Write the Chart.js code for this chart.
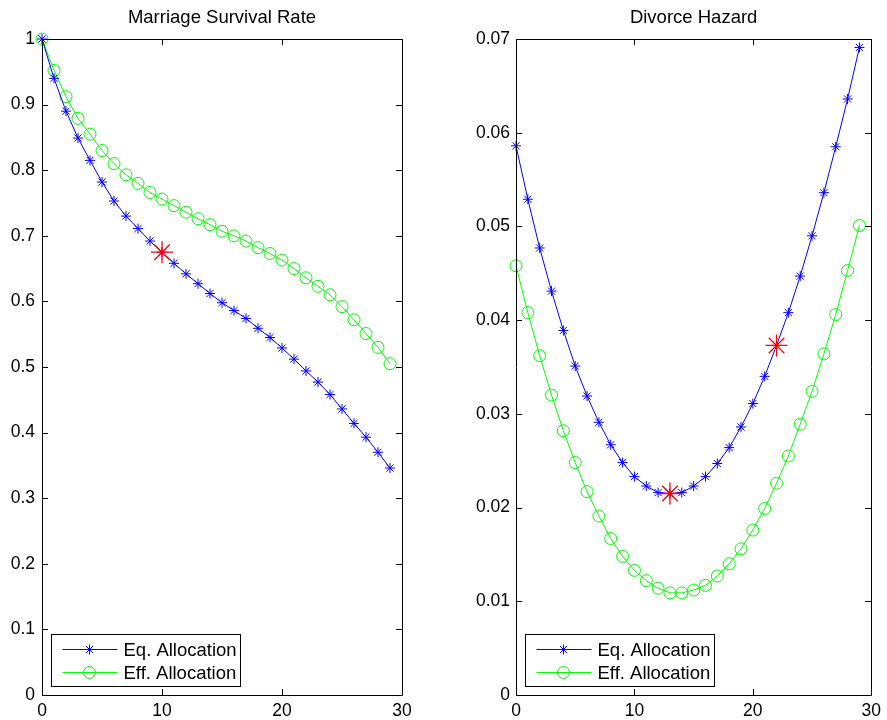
<!DOCTYPE html>
<html>
<head>
<meta charset="utf-8">
<title>Marriage Survival Rate / Divorce Hazard</title>
<script src="https://cdn.jsdelivr.net/npm/chart.js@4/dist/chart.umd.min.js"></script>
<style>
  html, body { margin: 0; padding: 0; background: #fff; }
  #wrap { position: relative; width: 887px; height: 720px; }
  canvas { position: absolute; top: 0; }
  #survivalChart { left: 0; }
  #hazardChart { left: 443px; }
</style>
</head>
<body>
<div id="wrap">
  <canvas id="survivalChart" width="443" height="720"></canvas>
  <canvas id="hazardChart" width="444" height="720"></canvas>
</div>
<script>
// Periods on the x axis
const periods = [0, 1, 2, 3, 4, 5, 6, 7, 8, 9, 10, 11, 12, 13, 14, 15, 16, 17, 18, 19, 20, 21, 22, 23, 24, 25, 26, 27, 28, 29];

// Marriage survival rate
const survivalEq = [1.0, 0.940, 0.890, 0.849, 0.815, 0.782, 0.753, 0.730, 0.711, 0.692, 0.675, 0.658, 0.642, 0.627, 0.612, 0.598, 0.586, 0.574, 0.559, 0.545, 0.529, 0.512, 0.494, 0.477, 0.458, 0.436, 0.414, 0.393, 0.370, 0.346];
const survivalEff = [1.0, 0.952, 0.912, 0.879, 0.855, 0.830, 0.810, 0.793, 0.780, 0.766, 0.756, 0.746, 0.736, 0.726, 0.717, 0.707, 0.700, 0.692, 0.682, 0.673, 0.663, 0.650, 0.636, 0.623, 0.610, 0.592, 0.572, 0.551, 0.530, 0.505];

// Divorce hazard
const hazardEq = [0.0586, 0.0529, 0.0477, 0.0431, 0.0389, 0.0351, 0.0319, 0.0291, 0.0267, 0.0248, 0.0233, 0.0223, 0.0216, 0.0215, 0.0216, 0.0223, 0.0233, 0.0247, 0.0264, 0.0286, 0.0311, 0.0340, 0.0373, 0.0408, 0.0447, 0.0490, 0.0536, 0.0585, 0.0636, 0.0691];
const hazardEff = [0.0458, 0.0408, 0.0362, 0.0320, 0.0282, 0.0248, 0.0217, 0.0191, 0.0167, 0.0148, 0.0133, 0.0122, 0.0114, 0.0109, 0.0109, 0.0112, 0.0117, 0.0127, 0.0140, 0.0156, 0.0176, 0.0199, 0.0226, 0.0255, 0.0289, 0.0324, 0.0364, 0.0406, 0.0453, 0.0501];

// Highlighted periods (red stars on the Eq. Allocation curve)
const survivalMarked = [10];
const hazardMarked = [13, 22];

// Axis ticks
const xTicks = [0, 10, 20, 30];
const survivalTicks = [0, 0.1, 0.2, 0.3, 0.4, 0.5, 0.6, 0.7, 0.8, 0.9, 1];
const hazardTicks = [0, 0.01, 0.02, 0.03, 0.04, 0.05, 0.06, 0.07];

const seriesLabels = ["Eq. Allocation", "Eff. Allocation"];
const seriesColors = ["#0000ff", "#00ff00"];
const markColor = "#ff0000";

const FONT = "'Liberation Sans', Arial, Helvetica, sans-serif";
Chart.defaults.font.family = FONT;
Chart.defaults.font.size = 17.5;
Chart.defaults.color = "#000";

// MATLAB style box with inward ticks on all four sides
const framePlugin = {
  id: "frame",
  afterDraw(chart) {
    const { ctx, chartArea: a, scales } = chart;
    const len = 6;
    ctx.save();
    ctx.strokeStyle = "#000";
    ctx.lineWidth = 1;
    ctx.beginPath();
    ctx.rect(Math.round(a.left) + 0.5, Math.round(a.top) + 0.5,
      Math.round(a.right - a.left), Math.round(a.bottom - a.top));
    scales.x.ticks.forEach((t) => {
      const px = Math.round(scales.x.getPixelForValue(t.value)) + 0.5;
      ctx.moveTo(px, a.bottom); ctx.lineTo(px, a.bottom - len);
      ctx.moveTo(px, a.top); ctx.lineTo(px, a.top + len);
    });
    scales.y.ticks.forEach((t) => {
      const py = Math.round(scales.y.getPixelForValue(t.value)) + 0.5;
      ctx.moveTo(a.left, py); ctx.lineTo(a.left + len, py);
      ctx.moveTo(a.right, py); ctx.lineTo(a.right - len, py);
    });
    ctx.stroke();
    ctx.restore();
  },
};

// Legend box in the lower left corner of the plot
const boxLegendPlugin = {
  id: "boxLegend",
  afterDraw(chart) {
    const { ctx, chartArea: a } = chart;
    const left = Math.round(a.left) + 9.5;
    const top = Math.round(a.bottom) - 60.5;
    const w = 189, h = 52;
    ctx.save();
    ctx.fillStyle = "#fff";
    ctx.fillRect(left, top, w, h);
    ctx.strokeStyle = "#000";
    ctx.lineWidth = 1;
    ctx.strokeRect(left, top, w, h);
    const items = chart.data.datasets.filter((d) => d.inLegend);
    items.forEach((ds, i) => {
      const cy = top + 15 + i * 23;
      const color = seriesColors[i];
      ctx.beginPath();
      ctx.strokeStyle = color;
      ctx.lineWidth = 1;
      ctx.moveTo(left + 11, cy);
      ctx.lineTo(left + 66, cy);
      ctx.stroke();
      ctx.fillStyle = "rgba(0,0,0,0)";
      ctx.strokeStyle = color;
      Chart.helpers.drawPoint(ctx, {
        pointStyle: ds.pointStyle,
        radius: ds.pointRadius,
        borderWidth: 1,
        rotation: 0,
      }, left + 38, cy);
      ctx.fillStyle = "#000";
      ctx.font = "18.5px " + FONT;
      ctx.textBaseline = "middle";
      ctx.textAlign = "left";
      ctx.fillText(ds.label, left + 72, cy + 1);
    });
    ctx.restore();
  },
};

function tickText(v) {
  return String(Number(v.toFixed(4)));
}

function makeChart(canvasId, title, eqValues, effValues, markedPeriods, yTicks, yMax, yAxisWidth, yPad, rightPad) {
  const eqPoints = periods.map((p, i) => ({ x: p, y: eqValues[i] }));
  const effPoints = periods.map((p, i) => ({ x: p, y: effValues[i] }));
  const markedPoints = markedPeriods.map((p) => ({ x: p, y: eqValues[periods.indexOf(p)] }));

  return new Chart(document.getElementById(canvasId), {
    type: "line",
    data: {
      datasets: [
        {
          label: "marked",
          data: markedPoints,
          showLine: false,
          pointStyle: "star",
          pointRadius: 11,
          pointBorderColor: markColor,
          borderColor: markColor,
          pointBorderWidth: 1.3,
          order: 0,
          clip: false,
          inLegend: false,
        },
        {
          label: seriesLabels[0],
          data: eqPoints,
          borderColor: seriesColors[0],
          backgroundColor: seriesColors[0],
          borderWidth: 1,
          pointStyle: "star",
          pointRadius: 5,
          pointBorderColor: seriesColors[0],
          pointBorderWidth: 1,
          tension: 0,
          order: 1,
          clip: false,
          inLegend: true,
        },
        {
          label: seriesLabels[1],
          data: effPoints,
          borderColor: seriesColors[1],
          backgroundColor: "rgba(0,0,0,0)",
          borderWidth: 1,
          pointStyle: "circle",
          pointRadius: 6,
          pointBorderColor: seriesColors[1],
          pointBackgroundColor: "rgba(0,0,0,0)",
          pointBorderWidth: 1,
          tension: 0,
          order: 2,
          clip: false,
          inLegend: true,
        },
      ],
    },
    options: {
      responsive: false,
      animation: false,
      devicePixelRatio: 1,
      events: [],
      layout: { padding: { left: 0, right: rightPad, top: 0, bottom: 0 } },
      plugins: {
        legend: { display: false },
        tooltip: { enabled: false },
        title: {
          display: true,
          text: title,
          fullSize: false,
          color: "#000",
          font: { size: 18.5, weight: "normal", lineHeight: 1 },
          padding: { top: 9, bottom: 11.5 },
        },
      },
      scales: {
        x: {
          type: "linear",
          min: 0,
          max: 30,
          grid: { display: false, drawTicks: false },
          border: { display: false },
          ticks: { padding: 6, maxRotation: 0, callback: tickText },
          afterBuildTicks: (scale) => { scale.ticks = xTicks.map((v) => ({ value: v })); },
          afterFit: (scale) => { scale.height = 25; },
        },
        y: {
          type: "linear",
          min: 0,
          max: yMax,
          grid: { display: false, drawTicks: false },
          border: { display: false },
          ticks: { padding: yPad, callback: tickText },
          afterBuildTicks: (scale) => { scale.ticks = yTicks.map((v) => ({ value: v })); },
          afterFit: (scale) => { scale.width = yAxisWidth; },
        },
      },
    },
    plugins: [framePlugin, boxLegendPlugin],
  });
}

makeChart("survivalChart", "Marriage Survival Rate", survivalEq, survivalEff, survivalMarked, survivalTicks, 1, 42, 7, 41);
makeChart("hazardChart", "Divorce Hazard", hazardEq, hazardEff, hazardMarked, hazardTicks, 0.07, 73, 6, 12);
</script>
</body>
</html>
